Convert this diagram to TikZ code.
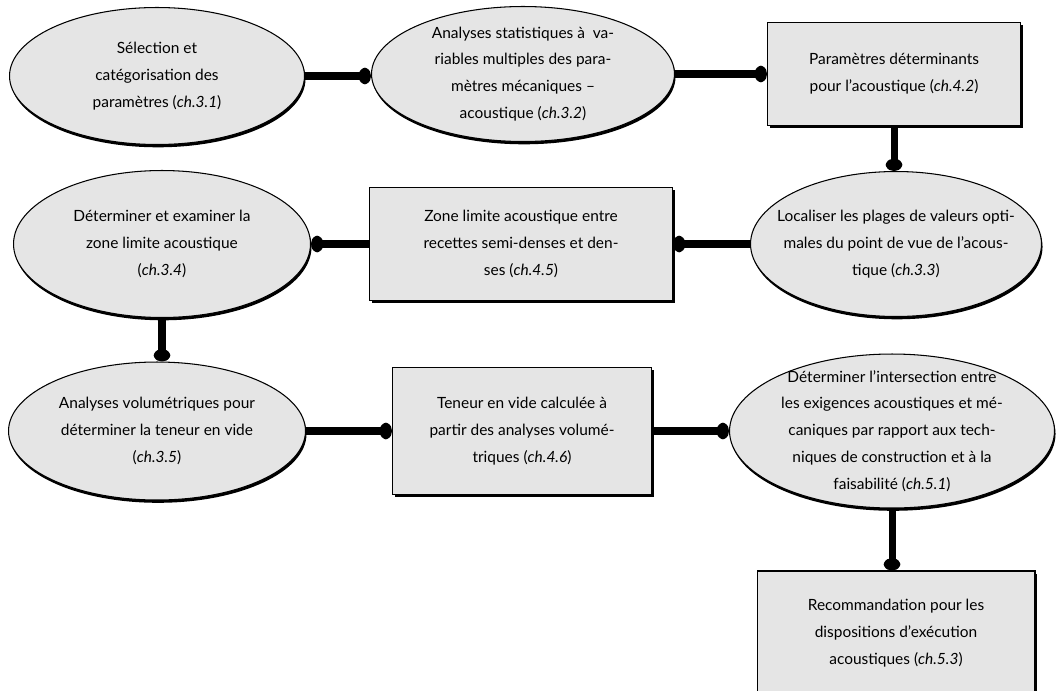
\documentclass[tikz,border=0pt]{standalone}
\usepackage{fontspec}
\setmainfont{Lato}
\usetikzlibrary{shapes.geometric,shadows,arrows.meta}

\tikzset{
  blob/.style={draw=black, line width=0.6pt, fill=black!10, align=center,
    font=\fontsize{8.8pt}{15.3pt}\selectfont},
  oval/.style={blob, ellipse, inner sep=-12pt,
    drop shadow={shadow xshift=0.6pt, shadow yshift=-1.6pt, fill=black, opacity=1}},
  card/.style={blob, rectangle, inner sep=0pt,
    drop shadow={shadow xshift=1.4pt, shadow yshift=-1.6pt, fill=black, opacity=1}},
  link/.style={line width=4pt, -{Circle[length=7pt,width=9.5pt,round]}}
}

\begin{document}
\begin{tikzpicture}[x=0.02cm,y=-0.02cm]
  \useasboundingbox[fill=white] (0,0) rectangle (1060,690);
  % first row
  \node[oval, minimum width=5.9cm, minimum height=2.74cm] (sel) at (157,76)
    {Sélection et\\catégorisation des\\paramètres (\textit{ch.3.1})};
  \node[oval, minimum width=6.06cm, minimum height=2.7cm] (stat) at (523,74)
    {Analyses statistiques à~ va-\\riables multiples des para-\\mètres mécaniques --\\acoustique (\textit{ch.3.2})};
  \node[card, minimum width=5.06cm, minimum height=2.06cm] (param) at (894,74)
    {Paramètres déterminants\\pour l'acoustique (\textit{ch.4.2})};
  % second row
  \node[oval, minimum width=5.82cm, minimum height=2.9cm] (plage) at (896,244)
    {Localiser les plages de valeurs opti-\\males du point de vue de l'acous-\\tique (\textit{ch.3.3})};
  \node[card, minimum width=6.06cm, minimum height=2.26cm] (zone) at (521,244)
    {Zone limite acoustique entre\\recettes semi-denses et den-\\ses (\textit{ch.4.5})};
  \node[oval, minimum width=5.94cm, minimum height=2.94cm] (exam) at (162,244)
    {Déterminer et examiner la\\zone limite acoustique\\(\textit{ch.3.4})};
  % third row
  \node[oval, minimum width=5.94cm, minimum height=2.76cm] (volu) at (157,431)
    {Analyses volumétriques pour\\déterminer la teneur en vide\\(\textit{ch.3.5})};
  \node[card, minimum width=5.18cm, minimum height=2.54cm] (vide) at (522,431)
    {Teneur en vide calculée à\\partir des analyses volumé-\\triques (\textit{ch.4.6})};
  \node[oval, minimum width=6.5cm, minimum height=3.08cm] (inter) at (892,431)
    {Déterminer l'intersection entre\\les exigences acoustiques et mé-\\caniques par rapport aux tech-\\niques de construction et à la\\faisabilité (\textit{ch.5.1})};
  % last box, cut at the bottom
  \node[card, minimum width=5.56cm, minimum height=2.48cm] (recom) at (896,633)
    {Recommandation pour les\\dispositions d'exécution\\acoustiques (\textit{ch.5.3})};

  \draw[link] (sel) -- (sel -| stat.west);
  \draw[link] (stat) -- (param);
  \draw[link] (param.south) -- (param.south |- plage.north);
  \draw[link] (plage) -- (zone);
  \draw[link] (zone) -- (exam);
  \draw[link] (exam.south) -- (exam.south |- volu.north);
  \draw[link] (volu) -- (vide);
  \draw[link] (vide) -- (inter);
  \draw[link] (inter.south) -- (inter.south |- recom.north);
\end{tikzpicture}
\end{document}
